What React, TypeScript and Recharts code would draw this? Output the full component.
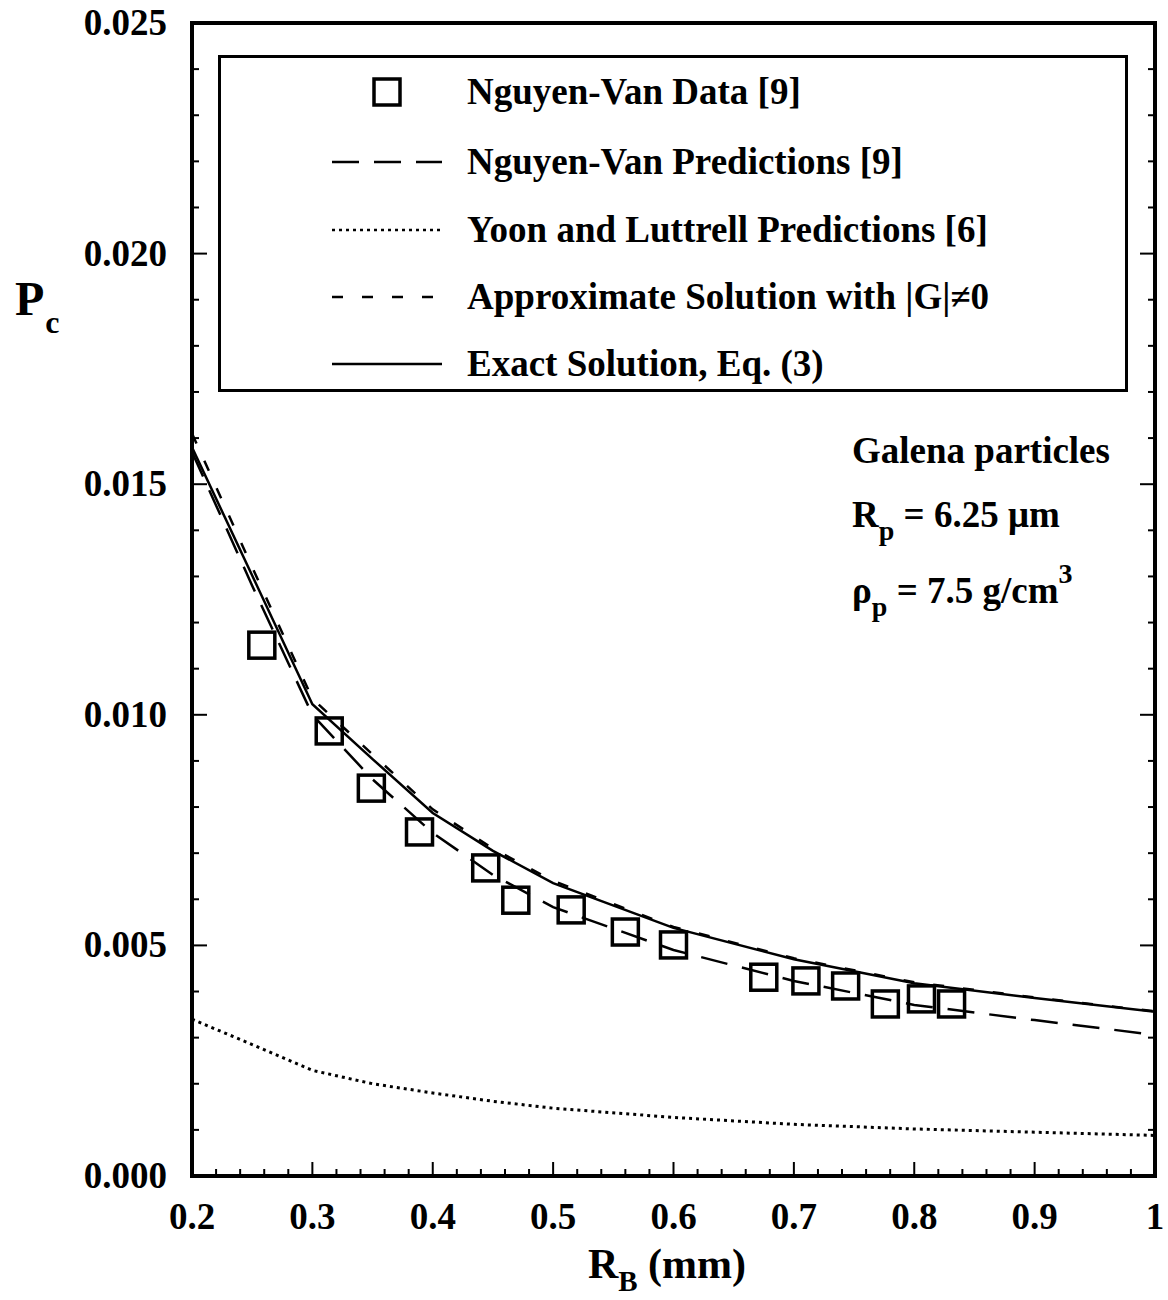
import React from 'react';
import { ComposedChart, Line, Scatter, XAxis, YAxis, Legend } from 'recharts';

// bubble radius R_B (mm) where the model curves were read
const rbGrid = [0.2, 0.25, 0.3, 0.35, 0.4, 0.45, 0.5, 0.6, 0.7, 0.8, 0.9, 1.0];
const exactPc = [0.0158, 0.01302, 0.01023, 0.00904, 0.00787, 0.00705, 0.00635, 0.00538, 0.0047, 0.00418, 0.00386, 0.00356];
const approxPc = [0.0161, 0.0132, 0.01035, 0.00914, 0.00795, 0.0071, 0.0064, 0.0054, 0.00472, 0.0042, 0.00387, 0.00357];
const nvPredPc = [0.0157, 0.0128, 0.01, 0.0086, 0.00744, 0.00653, 0.00583, 0.0049, 0.00423, 0.00371, 0.00338, 0.00306];
const ylPredPc = [0.0034, 0.00285, 0.00229, 0.002, 0.0018, 0.00162, 0.00147, 0.00127, 0.00112, 0.00102, 0.00095, 0.00088];

// Nguyen-Van measurements
const nvDataRb = [0.258, 0.314, 0.349, 0.389, 0.444, 0.469, 0.515, 0.56, 0.6, 0.675, 0.71, 0.743, 0.776, 0.806, 0.831];
const nvDataPc = [0.01151, 0.00965, 0.00841, 0.00746, 0.00668, 0.00598, 0.00577, 0.00529, 0.00501, 0.00431, 0.00423, 0.00412, 0.00373, 0.00384, 0.00373];

const xTicks = [
  0.2, 0.22, 0.24, 0.26, 0.28, 0.3, 0.32, 0.34, 0.36, 0.38, 0.4, 0.42, 0.44, 0.46, 0.48, 0.5, 0.52, 0.54, 0.56, 0.58,
  0.6, 0.62, 0.64, 0.66, 0.68, 0.7, 0.72, 0.74, 0.76, 0.78, 0.8, 0.82, 0.84, 0.86, 0.88, 0.9, 0.92, 0.94, 0.96, 0.98, 1.0,
];
const yTicks = [
  0, 0.001, 0.002, 0.003, 0.004, 0.005, 0.006, 0.007, 0.008, 0.009, 0.01, 0.011, 0.012, 0.013, 0.014, 0.015, 0.016,
  0.017, 0.018, 0.019, 0.02, 0.021, 0.022, 0.023, 0.024, 0.025,
];

const legendLabels = [
  'Nguyen-Van Data [9]',
  'Nguyen-Van Predictions [9]',
  'Yoon and Luttrell Predictions [6]',
  'Approximate Solution with |G|\u22600',
  'Exact Solution, Eq. (3)',
];

const FONT = '"Liberation Serif", "Times New Roman", Times, serif';
const LONG_DASH = '27 15';
const SHORT_DASH = '11 19';
const DOTS = '3 4';

const toPoints = (xs: number[], ys: number[]) => xs.map((x, i) => ({ x, y: ys[i] }));

const isMajorX = (v: number) => Math.abs(v * 10 - Math.round(v * 10)) < 1e-6;
const isMajorY = (v: number) => Math.abs(v * 200 - Math.round(v * 200)) < 1e-6;
const fmtX = (v: number) => (Math.abs(v - 1) < 1e-6 ? '1' : v.toFixed(1));

function BottomTick({ x, y, payload }: any) {
  const major = isMajorX(payload.value);
  return (
    <g>
      <line x1={x} x2={x} y1={y} y2={y - (major ? 14 : 7)} stroke="#000" strokeWidth={2} />
      {major && (
        <text x={x} y={y + 53} textAnchor="middle" fontFamily={FONT} fontWeight="bold" fontSize={37} fill="#000">
          {fmtX(payload.value)}
        </text>
      )}
    </g>
  );
}

function TopTick({ x, y, payload }: any) {
  const major = isMajorX(payload.value);
  return <line x1={x} x2={x} y1={y} y2={y + (major ? 14 : 7)} stroke="#000" strokeWidth={2} />;
}

function LeftTick({ x, y, payload }: any) {
  const major = isMajorY(payload.value);
  return (
    <g>
      <line x1={x} x2={x + (major ? 15 : 7)} y1={y} y2={y} stroke="#000" strokeWidth={2} />
      {major && (
        <text x={x - 25} y={y + 12} textAnchor="end" fontFamily={FONT} fontWeight="bold" fontSize={37} fill="#000">
          {payload.value.toFixed(3)}
        </text>
      )}
    </g>
  );
}

function RightTick({ x, y, payload }: any) {
  const major = isMajorY(payload.value);
  return <line x1={x} x2={x - (major ? 15 : 7)} y1={y} y2={y} stroke="#000" strokeWidth={2} />;
}

const SquareMark = ({ cx, cy }: any) => (
  <rect x={cx - 13} y={cy - 13} width={26} height={26} fill="none" stroke="#000" strokeWidth={3.5} />
);

function LegendSample({ index }: { index: number }) {
  if (index === 0) {
    return <rect x={42} y={2} width={26} height={26} fill="none" stroke="#000" strokeWidth={3.5} />;
  }
  const dash = [undefined, LONG_DASH, DOTS, SHORT_DASH, undefined][index];
  return <line x1={0} x2={110} y1={15} y2={15} stroke="#000" strokeWidth={2.5} strokeDasharray={dash} />;
}

const rowCenters = [34, 104, 172, 239, 306];

function LegendBox() {
  return (
    <div
      style={{
        position: 'relative',
        width: 910,
        height: 337,
        border: '3px solid #000',
        boxSizing: 'border-box',
        background: '#fff',
        fontFamily: FONT,
        fontWeight: 'bold',
        fontSize: 37,
        color: '#000',
      }}
    >
      {legendLabels.map((label, i) => (
        <React.Fragment key={label}>
          <svg width={110} height={30} style={{ position: 'absolute', left: 111, top: rowCenters[i] - 15 }}>
            <LegendSample index={i} />
          </svg>
          <div
            style={{
              position: 'absolute',
              left: 246,
              top: rowCenters[i] - 25,
              height: 50,
              lineHeight: '50px',
              whiteSpace: 'nowrap',
            }}
          >
            {label}
          </div>
        </React.Fragment>
      ))}
    </div>
  );
}

export default function App() {
  const exact = toPoints(rbGrid, exactPc);
  const approx = toPoints(rbGrid, approxPc);
  const nvPred = toPoints(rbGrid, nvPredPc);
  const ylPred = toPoints(rbGrid, ylPredPc);
  const nvData = toPoints(nvDataRb, nvDataPc);

  const frame = { stroke: '#000', strokeWidth: 4, strokeLinecap: 'square' as const };

  return (
    <div style={{ position: 'absolute', left: 0, top: 0, width: 1168, height: 1300, background: '#fff' }}>
      <ComposedChart width={1168} height={1300} margin={{ top: 0, right: 0, bottom: 0, left: 0 }}>
        <XAxis
          xAxisId="b"
          dataKey="x"
          type="number"
          domain={[0.2, 1]}
          ticks={xTicks}
          interval={0}
          height={124}
          tickSize={0}
          tickMargin={0}
          axisLine={frame}
          tickLine={false}
          tick={<BottomTick />}
          allowDataOverflow
        />
        <XAxis
          xAxisId="t"
          orientation="top"
          type="number"
          domain={[0.2, 1]}
          ticks={xTicks}
          interval={0}
          height={23}
          tickSize={0}
          tickMargin={0}
          axisLine={frame}
          tickLine={false}
          tick={<TopTick />}
          allowDataOverflow
        />
        <YAxis
          yAxisId="l"
          dataKey="y"
          type="number"
          domain={[0, 0.025]}
          ticks={yTicks}
          interval={0}
          width={192}
          tickSize={0}
          tickMargin={0}
          axisLine={frame}
          tickLine={false}
          tick={<LeftTick />}
          allowDataOverflow
        />
        <YAxis
          yAxisId="r"
          orientation="right"
          type="number"
          domain={[0, 0.025]}
          ticks={yTicks}
          interval={0}
          width={13}
          tickSize={0}
          tickMargin={0}
          axisLine={frame}
          tickLine={false}
          tick={<RightTick />}
          allowDataOverflow
        />
        <Legend
          layout="vertical"
          align="center"
          verticalAlign="middle"
          content={<LegendBox />}
          wrapperStyle={{ left: 218, top: 55, width: 910, height: 337 }}
        />
        <Line xAxisId="b" yAxisId="l" data={ylPred} dataKey="y" type="linear" stroke="#000" strokeWidth={3} strokeDasharray={DOTS} dot={false} isAnimationActive={false} />
        <Line xAxisId="b" yAxisId="l" data={nvPred} dataKey="y" type="linear" stroke="#000" strokeWidth={2.5} strokeDasharray={LONG_DASH} dot={false} isAnimationActive={false} />
        <Line xAxisId="b" yAxisId="l" data={approx} dataKey="y" type="linear" stroke="#000" strokeWidth={2.5} strokeDasharray={SHORT_DASH} dot={false} isAnimationActive={false} />
        <Line xAxisId="b" yAxisId="l" data={exact} dataKey="y" type="linear" stroke="#000" strokeWidth={2.5} dot={false} isAnimationActive={false} />
        <Scatter xAxisId="b" yAxisId="l" data={nvData} dataKey="y" shape={<SquareMark />} isAnimationActive={false} />
      </ComposedChart>
      <svg
        width={1168}
        height={1300}
        style={{ position: 'absolute', left: 0, top: 0, pointerEvents: 'none' }}
        fontFamily={FONT}
        fontWeight="bold"
        fill="#000"
      >
        <text x={15} y={315} fontSize={48}>
          P<tspan fontSize={32} dx={1} dy={18}>c</tspan>
        </text>
        <text x={667} y={1278} fontSize={42} textAnchor="middle">
          R<tspan fontSize={29} dy={13}>B</tspan>
          <tspan dy={-13}> (mm)</tspan>
        </text>
        <text x={852} y={463} fontSize={37}>Galena particles</text>
        <text x={852} y={527} fontSize={37}>
          R<tspan fontSize={28} dy={13}>p</tspan>
          <tspan dy={-13}> = 6.25 {'\u03bc'}m</tspan>
        </text>
        <text x={852} y={603} fontSize={37}>
          {'\u03c1'}<tspan fontSize={28} dy={13}>p</tspan>
          <tspan dy={-13}> = 7.5 g/cm</tspan>
          <tspan fontSize={28} dy={-20}>3</tspan>
        </text>
      </svg>
    </div>
  );
}
